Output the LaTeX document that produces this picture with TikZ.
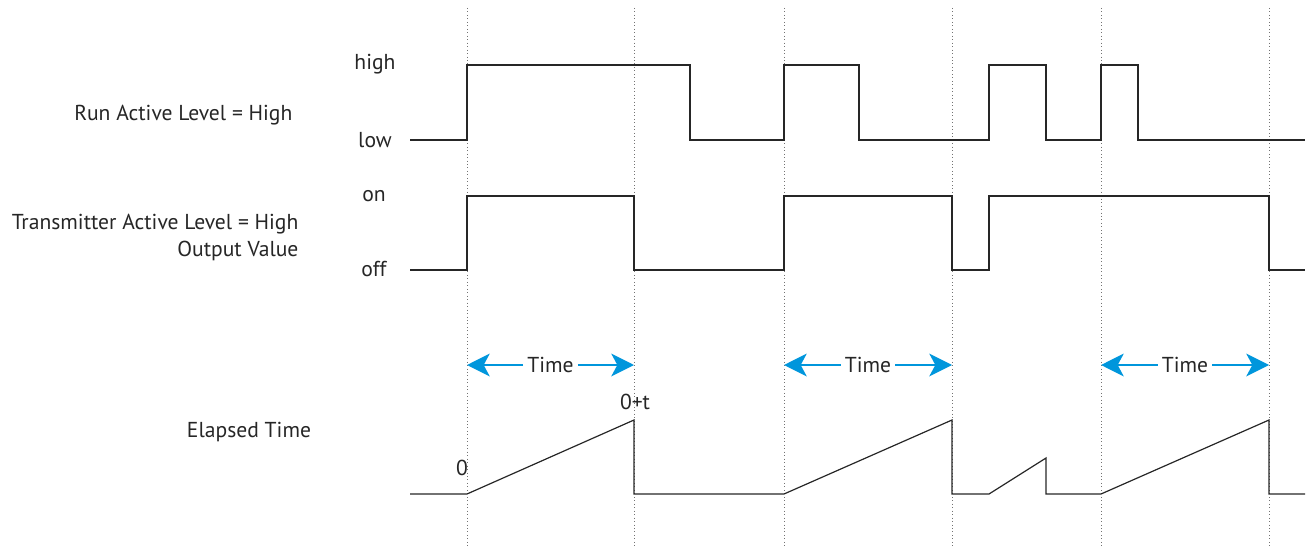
\documentclass[tikz,border=0pt]{standalone}
\usepackage{fontspec}
\setmainfont{PT Sans}
\usetikzlibrary{arrows.meta}
\definecolor{tblue}{RGB}{0,150,220}
\begin{document}
\begin{tikzpicture}[x=0.75pt,y=-0.75pt,
  lbl/.style={font=\fontsize{16.2}{18}\selectfont, inner sep=1pt, text=black!85},
  guide/.style={draw=black!55, dotted, line width=0.6pt},
  wave/.style={draw=black!85, line width=0.9pt, line join=miter},
  timearrow/.style={draw=tblue, line width=1.8pt, -{Stealth[length=17pt,width=17pt,inset=4.5pt]}},
  tlbl/.style={font=\fontsize{16.2}{18}\selectfont, inner sep=3pt, text=black!85, fill=white}]
\useasboundingbox (0,0) rectangle (1309,549);
% guide lines
\foreach \x in {467,634,784,952,1101,1269}
  \draw[guide] (\x,8) -- (\x,549);
% labels
\node[lbl, anchor=east] (run) at (294,115) {Run Active Level = High};
\node[lbl, anchor=east] (tx) at (300,224) {Transmitter Active Level = High};
\node[lbl, anchor=east] (ov) at (300,251) {Output Value};
\node[lbl] (el) at (249,432) {Elapsed Time};
\node[lbl] (hi) at (375,64) {high};
\node[lbl] (lo) at (375,140) {low};
\node[lbl] (on) at (374,196) {on};
\node[lbl] (off) at (374,269) {off};
\node[lbl] (zero) at (462,468) {0};
\node[lbl] (zt) at (635,402) {0+t};
% run waveform
\draw[wave] (410,140) -- (467,140) -- (467,65) -- (690,65) -- (690,140) -- (784,140) -- (784,65) -- (859,65) -- (859,140)
  -- (989,140) -- (989,65) -- (1046,65) -- (1046,140) -- (1101,140) -- (1101,65) -- (1138,65) -- (1138,140) -- (1305,140);
% transmitter waveform
\draw[wave] (410,270) -- (467,270) -- (467,196) -- (634,196) -- (634,270) -- (784,270) -- (784,196) -- (952,196) -- (952,270)
  -- (989,270) -- (989,196) -- (1269,196) -- (1269,270) -- (1305,270);
% elapsed time
\draw[wave] (410,494) -- (467,494) -- (634,420) -- (634,494) -- (784,494) -- (952,420) -- (952,494) -- (989,494)
  -- (1046,458) -- (1046,494) -- (1101,494) -- (1269,420) -- (1269,494) -- (1305,494);
% time arrows
\foreach \a/\b/\n in {467/634/t1,784/952/t2,1101/1269/t3}{
  \coordinate (\n l) at (\a,365);
  \coordinate (\n r) at (\b,365);
  \node[tlbl] (\n) at ({(\a+\b)/2},365) {Time};
  \draw[timearrow] (\n.west) -- (\n l);
  \draw[timearrow] (\n.east) -- (\n r);
}
\end{tikzpicture}
\end{document}
